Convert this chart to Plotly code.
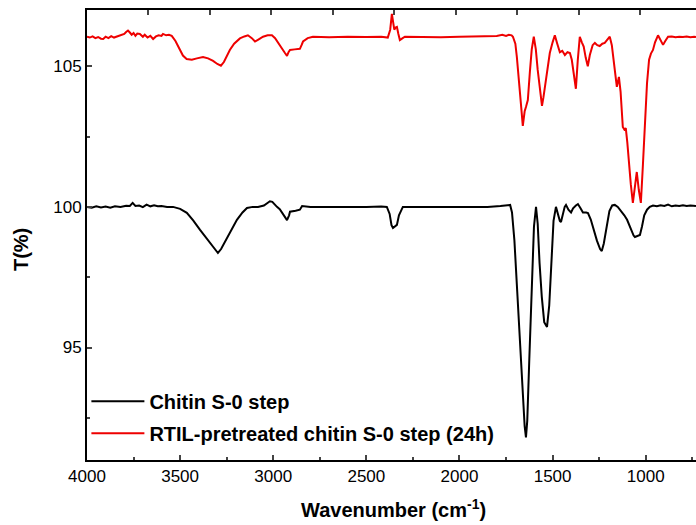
import plotly.graph_objects as go

# ---- data ----
black_wn = [4000, 3975, 3950, 3925, 3900, 3875, 3850, 3820, 3790, 3770, 3755, 3740, 3720, 3700, 3680,
            3660, 3640, 3620, 3600, 3570, 3538, 3500, 3464, 3430, 3393, 3360, 3340, 3315, 3297, 3280,
            3249, 3220, 3195, 3165, 3141, 3110, 3082, 3050, 3030, 3018, 3005, 2990, 2980, 2965, 2954,
            2940, 2926, 2915, 2910, 2880, 2857, 2845, 2830, 2800, 2700, 2600, 2500, 2420, 2390, 2375,
            2365, 2357, 2348, 2336, 2325, 2310, 2304, 2250, 2150, 2050, 1950, 1850, 1780, 1750, 1728,
            1718, 1705, 1690, 1675, 1660, 1650, 1643, 1636, 1625, 1612, 1600, 1589, 1580, 1570, 1558,
            1545, 1530, 1518, 1505, 1495, 1482, 1470, 1461, 1455, 1445, 1435, 1428, 1415, 1401, 1390,
            1375, 1364, 1350, 1337, 1320, 1310, 1295, 1280, 1262, 1245, 1236, 1225, 1210, 1195, 1180,
            1166, 1150, 1130, 1115, 1100, 1080, 1065, 1058, 1045, 1031, 1020, 1008, 993, 978, 961,
            940, 920, 900, 880, 860, 840, 820, 800, 780, 760, 740, 730]
black_t = [100.00, 99.97, 100.02, 99.98, 100.01, 99.97, 100.02, 100.00, 100.04, 100.03, 100.14, 100.03,
           100.05, 99.99, 100.08, 100.02, 100.06, 100.02, 100.03, 100.00, 100.00, 99.93, 99.79, 99.52,
           99.18, 98.90, 98.72, 98.50, 98.36, 98.50, 98.89, 99.22, 99.54, 99.80, 99.96, 100.00, 100.00,
           100.05, 100.15, 100.20, 100.18, 100.05, 100.00, 99.92, 99.80, 99.65, 99.53, 99.70, 99.83,
           99.86, 99.90, 100.03, 100.02, 100.00, 100.00, 99.99, 100.00, 100.01, 100.00, 99.75, 99.35,
           99.25, 99.30, 99.36, 99.70, 99.95, 100.00, 100.00, 99.99, 100.00, 100.00, 100.00, 100.03,
           100.06, 100.07, 99.80, 98.80, 97.00, 95.20, 93.30, 92.20, 91.80, 92.40, 94.60, 97.30, 99.30,
           100.00, 99.40, 98.00, 96.80, 95.90, 95.73, 96.50, 98.30, 99.50, 100.00, 99.70, 99.50, 99.46,
           99.75, 100.00, 100.07, 99.90, 99.80, 99.95, 100.05, 100.10, 99.95, 99.80, 99.80, 99.78,
           99.55, 99.20, 98.80, 98.50, 98.43, 98.70, 99.35, 99.85, 100.05, 100.07, 100.00, 99.85,
           99.70, 99.54, 99.20, 98.98, 98.93, 98.96, 99.00, 99.30, 99.70, 99.90, 100.00, 100.05,
           100.02, 100.06, 100.03, 100.08, 100.02, 100.05, 100.03, 100.06, 100.03, 100.05, 100.02, 100.03]

red_wn = [4000, 3985, 3970, 3955, 3940, 3925, 3913, 3900, 3885, 3870, 3855, 3840, 3820, 3800, 3790,
          3780, 3770, 3760, 3750, 3740, 3730, 3716, 3700, 3690, 3675, 3660, 3645, 3630, 3615, 3600,
          3592, 3575, 3560, 3545, 3525, 3505, 3485, 3465, 3437, 3410, 3377, 3350, 3323, 3300, 3281,
          3265, 3250, 3233, 3210, 3179, 3155, 3136, 3115, 3098, 3080, 3055, 3030, 3007, 2990, 2975,
          2955, 2937, 2926, 2918, 2910, 2885, 2857, 2848, 2840, 2815, 2787, 2700, 2600, 2500, 2420,
          2385, 2372, 2363, 2356, 2350, 2343, 2336, 2328, 2320, 2305, 2293, 2200, 2100, 2000, 1900,
          1850, 1800, 1770, 1750, 1735, 1720, 1713, 1700, 1692, 1684, 1676, 1668, 1660, 1650, 1643,
          1633, 1622, 1612, 1601, 1590, 1580, 1568, 1557, 1549, 1541, 1528, 1515, 1500, 1488, 1475,
          1461, 1448, 1434, 1420, 1407, 1397, 1386, 1375, 1365, 1354, 1343, 1333, 1322, 1311, 1300,
          1285, 1273, 1260, 1247, 1233, 1220, 1207, 1193, 1182, 1171, 1163, 1155, 1149, 1144, 1135,
          1123, 1115, 1107, 1099, 1091, 1080, 1069, 1058, 1048, 1037, 1026, 1015, 1004, 993, 982,
          972, 961, 950, 934, 920, 907, 895, 880, 860, 840, 820, 800, 780, 760, 740, 730]
red_t = [106.05, 106.02, 106.06, 106.00, 106.04, 105.98, 105.97, 106.05, 106.00, 106.07, 106.02, 106.06,
         106.10, 106.15, 106.22, 106.27, 106.20, 106.12, 106.18, 106.08, 106.16, 106.15, 106.05, 106.12,
         106.02, 106.08, 105.97, 106.06, 106.10, 106.08, 106.15, 106.10, 106.12, 106.08, 105.90, 105.62,
         105.38, 105.26, 105.23, 105.28, 105.33, 105.28, 105.19, 105.08, 105.02, 105.15, 105.38, 105.58,
         105.80, 105.99, 106.06, 106.10, 106.00, 105.88, 105.95, 106.05, 106.10, 106.10, 106.00, 105.83,
         105.65, 105.47, 105.37, 105.50, 105.58, 105.60, 105.62, 105.75, 105.88, 106.00, 106.05, 106.03,
         106.05, 106.04, 106.05, 106.02, 106.30, 106.86, 106.50, 106.30, 106.38, 106.40, 106.15, 105.93,
         106.00, 106.05, 106.04, 106.03, 106.05, 106.06, 106.05, 106.08, 106.12, 106.08, 106.12, 106.10,
         106.05, 105.80, 105.33, 104.80, 104.27, 103.50, 102.88, 103.40, 103.55, 103.80, 104.80, 105.60,
         106.05, 105.60, 104.87, 104.10, 103.59, 103.90, 104.27, 104.90, 105.47, 105.85, 106.10, 105.80,
         105.50, 105.55, 105.40, 105.50, 105.47, 105.23, 104.70, 104.20, 105.20, 106.05, 105.85, 105.70,
         105.30, 105.00, 105.40, 105.75, 105.83, 105.75, 105.72, 105.80, 105.83, 105.95, 106.05, 105.75,
         105.23, 104.70, 104.27, 104.50, 104.62, 104.10, 102.84, 102.75, 102.80, 102.30, 101.56, 100.80,
         100.14, 100.70, 101.24, 100.60, 100.14, 101.50, 103.09, 104.40, 105.23, 105.45, 105.58, 105.85,
         106.10, 105.95, 105.76, 105.90, 106.05, 106.06, 106.03, 106.05, 106.04, 106.06, 106.03, 106.05,
         106.04]

series_names = ["Chitin S-0 step", "RTIL-pretreated chitin S-0 step (24h)"]
x_tick_vals = [4000, 3500, 3000, 2500, 2000, 1500, 1000]
x_top_ticks = [3670, 3340, 3010, 2680, 2350, 2020, 1690, 1360, 1030]
y_tick_vals = [95, 100, 105]
x_range = [4000, 730]
y_range = [91, 107]

FONT = "Arial, Liberation Sans, sans-serif"

fig = go.Figure()
fig.add_trace(go.Scatter(x=black_wn, y=black_t, mode="lines", name=series_names[0],
                         line=dict(color="#000000", width=2), legendgroup="a"))
fig.add_trace(go.Scatter(x=red_wn, y=red_t, mode="lines", name=series_names[1],
                         line=dict(color="#ee0000", width=2), legendgroup="b"))
# empty trace so the top (mirror) axis is rendered
fig.add_trace(go.Scatter(x=[], y=[], xaxis="x2", yaxis="y", showlegend=False, hoverinfo="skip"))

fig.update_layout(
    width=696, height=525,
    margin=dict(l=87, r=0, t=10, b=65),
    paper_bgcolor="white", plot_bgcolor="white",
    font=dict(family=FONT, size=17, color="black"),
    showlegend=True,
    legend=dict(x=-0.001, y=0.174, xanchor="left", yanchor="top",
                font=dict(family=FONT, size=20, color="black", weight="bold"),
                bgcolor="rgba(0,0,0,0)", tracegroupgap=3, itemwidth=53,
                traceorder="grouped"),
    xaxis=dict(range=x_range, tickvals=x_tick_vals, ticks="inside", ticklen=5, tickwidth=2,
               showline=True, linewidth=2, linecolor="black", showgrid=False, zeroline=False,
               minor=dict(dtick=250, tick0=4000, ticks="inside", ticklen=3, tickwidth=2),
               tickfont=dict(size=17)),
    xaxis2=dict(range=x_range, overlaying="x", side="top", tickvals=x_top_ticks, ticks="inside",
                ticklen=5, tickwidth=2, showticklabels=False, showline=True, linewidth=2,
                linecolor="black", showgrid=False, zeroline=False),
    yaxis=dict(range=y_range, tickvals=y_tick_vals, ticks="inside", ticklen=5, tickwidth=2,
               showline=True, linewidth=2, linecolor="black", showgrid=False, zeroline=False,
               minor=dict(dtick=2.5, tick0=90, ticks="inside", ticklen=3, tickwidth=2),
               tickfont=dict(size=17)),
    annotations=[
        dict(text="<b>Wavenumber (cm<sup>-1</sup>)</b>", xref="paper", yref="paper",
             x=0.504, y=-0.108, xanchor="center", yanchor="middle", showarrow=False,
             font=dict(family=FONT, size=20, color="black")),
        dict(text="<b>T(%)</b>", xref="paper", yref="paper", x=-0.108, y=0.467,
             xanchor="center", yanchor="middle", textangle=-90, showarrow=False,
             font=dict(family=FONT, size=20, color="black")),
    ],
)

fig.write_html("out.html", config={"displayModeBar": False},
               post_script="document.body.style.margin='0';document.body.style.padding='0';")
